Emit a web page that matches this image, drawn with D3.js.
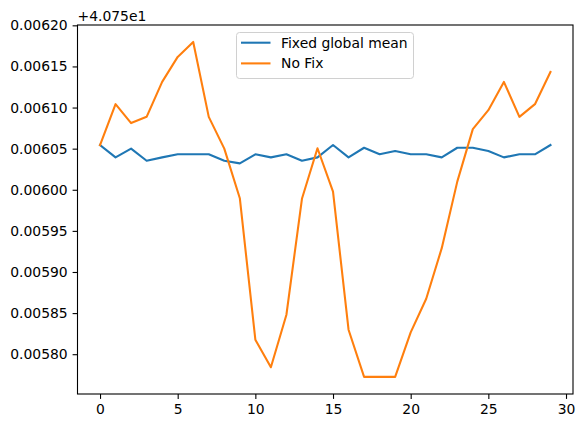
<!DOCTYPE html>
<html>
<head>
<meta charset="utf-8">
<script src="https://cdn.jsdelivr.net/npm/d3@7"></script>
<style>
  body { margin: 0; background: #fff; }
  text { font-family: "DejaVu Sans", sans-serif; }
</style>
</head>
<body>
<svg id="chart"></svg>
<script>
const width = 584;
const height = 428;
const margin = { top: 25, right: 11, bottom: 34, left: 77.5 };

const offset = 40.75;
const steps = d3.range(30);
const fixedMean = [
  0.0060544, 0.0060394, 0.0060500, 0.0060353, 0.0060394, 0.0060431, 0.0060431, 0.0060431, 0.0060353, 0.0060321,
  0.0060431, 0.0060394, 0.0060431, 0.0060353, 0.0060394, 0.0060544, 0.0060394, 0.0060511, 0.0060431, 0.0060471,
  0.0060431, 0.0060431, 0.0060394, 0.0060511, 0.0060511, 0.0060471, 0.0060394, 0.0060431, 0.0060431, 0.0060544
];
const noFix = [
  0.0060544, 0.0061041, 0.0060811, 0.0060887, 0.0061312, 0.0061616, 0.0061798, 0.0060887, 0.0060500, 0.0059897,
  0.0058177, 0.0057841, 0.0058480, 0.0059890, 0.0060505, 0.0059977, 0.0058298, 0.0057724, 0.0057724, 0.0057724,
  0.0058266, 0.0058675, 0.0059290, 0.0060099, 0.0060738, 0.0060968, 0.0061312, 0.0060887, 0.0061041, 0.0061433
];
const seriesNames = ["Fixed global mean", "No Fix"];
const colors = ["#1f77b4", "#ff7f0e"];
const xTicks = [0, 5, 10, 15, 20, 25, 30];
const yTicks = [0.00580, 0.00585, 0.00590, 0.00595, 0.00600, 0.00605, 0.00610, 0.00615, 0.00620];

const svg = d3.select("#chart")
  .attr("width", width)
  .attr("height", height);

const x = d3.scaleLinear()
  .domain([-1.45, 30.45])
  .range([margin.left, width - margin.right]);

const y = d3.scaleLinear()
  .domain([offset + 0.0057516, offset + 0.0062004])
  .range([height - margin.bottom, margin.top]);

const series = [fixedMean, noFix];

const line = d3.line()
  .x((d, i) => x(steps[i]))
  .y(d => y(offset + d));

svg.append("g")
  .selectAll("path")
  .data(series)
  .join("path")
  .attr("fill", "none")
  .attr("stroke", (d, i) => colors[i])
  .attr("stroke-width", 2.08)
  .attr("stroke-linejoin", "round")
  .attr("stroke-linecap", "square")
  .attr("d", line);

const xAxis = d3.axisBottom(x)
  .tickValues(xTicks)
  .tickSize(4.9)
  .tickPadding(4.9)
  .tickSizeOuter(0);

const yAxis = d3.axisLeft(y)
  .tickValues(yTicks.map(v => offset + v))
  .tickFormat(v => (v - offset).toFixed(5))
  .tickSize(4.9)
  .tickPadding(4.9)
  .tickSizeOuter(0);

const gx = svg.append("g")
  .attr("transform", `translate(0,${height - margin.bottom})`)
  .call(xAxis);

const gy = svg.append("g")
  .attr("transform", `translate(${margin.left},0)`)
  .call(yAxis);

[gx, gy].forEach(g => {
  g.select(".domain").remove();
  g.selectAll(".tick line").attr("stroke", "#000").attr("stroke-width", 1.1);
  g.selectAll(".tick text")
    .attr("fill", "#000")
    .attr("font-size", "13.9px")
    .attr("font-family", "DejaVu Sans");
});

// frame
svg.append("rect")
  .attr("x", margin.left)
  .attr("y", margin.top)
  .attr("width", width - margin.right - margin.left)
  .attr("height", height - margin.bottom - margin.top)
  .attr("fill", "none")
  .attr("stroke", "#000")
  .attr("stroke-width", 1.1);

// offset text
svg.append("text")
  .attr("x", margin.left)
  .attr("y", 20.5)
  .attr("font-size", "13.9px")
  .attr("fill", "#000")
  .text("+4.075e1");

// legend
const legend = svg.append("g").attr("transform", "translate(236.5,32.5)");

legend.append("rect")
  .attr("width", 177)
  .attr("height", 46)
  .attr("rx", 3)
  .attr("fill", "#fff")
  .attr("fill-opacity", 0.8)
  .attr("stroke", "#d0d0d0")
  .attr("stroke-width", 1);

const items = legend.selectAll("g.item")
  .data(seriesNames)
  .join("g")
  .attr("class", "item")
  .attr("transform", (d, i) => `translate(0,${10.2 + i * 20.7})`);

items.append("line")
  .attr("x1", 4.5)
  .attr("x2", 34)
  .attr("stroke", (d, i) => colors[i])
  .attr("stroke-width", 2.08);

items.append("text")
  .attr("x", 44.5)
  .attr("y", 5)
  .attr("font-size", "13.9px")
  .attr("fill", "#000")
  .text(d => d);
</script>
</body>
</html>
